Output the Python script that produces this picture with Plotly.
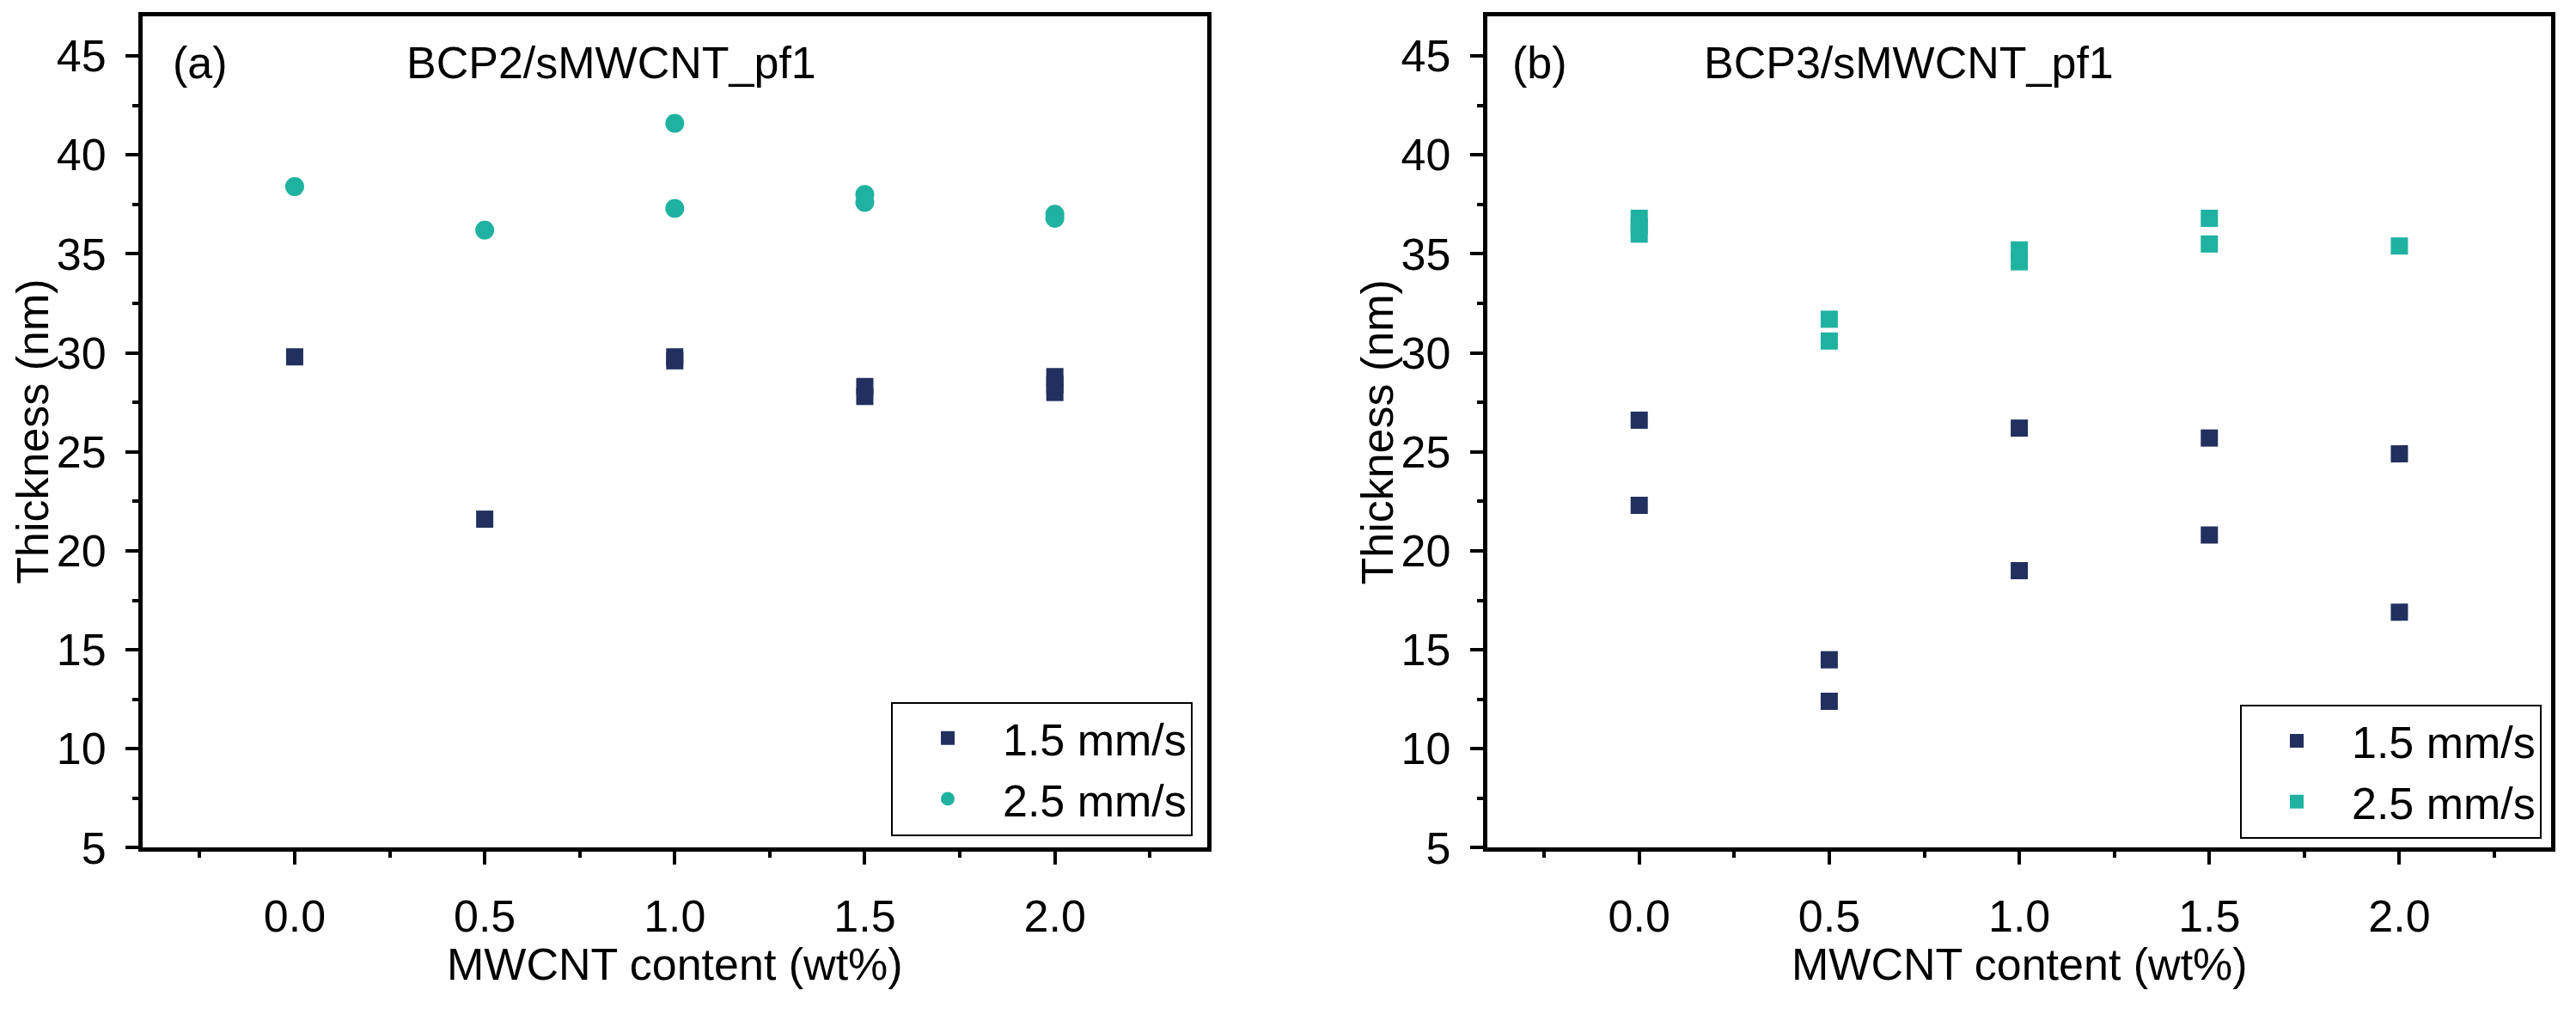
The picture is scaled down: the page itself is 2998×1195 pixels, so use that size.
import plotly.graph_objects as go

# figure fills the 2998x1195 browser window exactly
W, H = 2998, 1195

FONT = 'Liberation Sans, Arial, sans-serif'
NAVY = '#22305F'
TEAL = '#20B2A0'

# panel (a) BCP2/sMWCNT_pf1
content_a_slow = [0.0, 0.5, 1.0, 1.0, 1.5, 1.5, 2.0, 2.0, 2.0]
thick_a_slow = [29.8, 21.6, 29.8, 29.6, 28.3, 27.8, 28.8, 28.4, 28.0]
content_a_fast = [0.0, 0.5, 1.0, 1.0, 1.5, 1.5, 2.0, 2.0]
thick_a_fast = [38.4, 36.2, 41.6, 37.3, 38.0, 37.6, 37.0, 36.8]

# panel (b) BCP3/sMWCNT_pf1
content_b_slow = [0.0, 0.0, 0.5, 0.5, 1.0, 1.0, 1.5, 1.5, 2.0, 2.0]
thick_b_slow = [26.6, 22.3, 14.5, 12.4, 26.2, 19.0, 25.7, 20.8, 24.9, 16.9]
content_b_fast = [0.0, 0.0, 0.0, 0.5, 0.5, 1.0, 1.0, 1.5, 1.5, 2.0]
thick_b_fast = [36.8, 36.4, 36.0, 31.7, 30.6, 35.2, 34.6, 36.8, 35.5, 35.4]

x_ticks = [0.0, 0.5, 1.0, 1.5, 2.0]
x_tick_labels = ['0.0', '0.5', '1.0', '1.5', '2.0']
y_ticks = [5, 10, 15, 20, 25, 30, 35, 40, 45]
series_names = ['1.5 mm/s', '2.5 mm/s']
panel_tags = ['(a)', '(b)']
panel_titles = ['BCP2/sMWCNT_pf1', 'BCP3/sMWCNT_pf1']


def px_x(x):
    return x / W


def px_y(y):
    return 1 - y / H


fig = go.Figure()

fig.add_trace(go.Scatter(x=content_a_slow, y=thick_a_slow, mode='markers', name=series_names[0],
                         marker=dict(symbol='square', size=20, color=NAVY),
                         xaxis='x', yaxis='y', legend='legend'))
fig.add_trace(go.Scatter(x=content_a_fast, y=thick_a_fast, mode='markers', name=series_names[1],
                         marker=dict(symbol='circle', size=22, color=TEAL),
                         xaxis='x', yaxis='y', legend='legend'))
fig.add_trace(go.Scatter(x=content_b_slow, y=thick_b_slow, mode='markers', name=series_names[0],
                         marker=dict(symbol='square', size=20, color=NAVY),
                         xaxis='x2', yaxis='y2', legend='legend2'))
fig.add_trace(go.Scatter(x=content_b_fast, y=thick_b_fast, mode='markers', name=series_names[1],
                         marker=dict(symbol='square', size=20, color=TEAL),
                         xaxis='x2', yaxis='y2', legend='legend2'))

axis_style = dict(showgrid=False, zeroline=False, showline=True, mirror=True,
                  linecolor='black', linewidth=5,
                  ticks='outside', ticklen=15, tickwidth=4, tickcolor='black',
                  tickfont=dict(family=FONT, size=52, color='black'))

y_dom = [px_y(1011), px_y(19.5)]
panels = [(166, 1404.6), (1730.8, 2969.4)]

for i, (left, right) in enumerate(panels):
    sfx = '' if i == 0 else str(i + 1)
    fig.update_layout(**{
        f'xaxis{sfx}': dict(axis_style, domain=[px_x(left), px_x(right)], range=[-0.4, 2.4],
                            anchor=f'y{sfx}', tickvals=x_ticks, ticktext=x_tick_labels,
                            ticklabelstandoff=15,
                            minor=dict(dtick=0.25, tick0=0, ticks='outside', ticklen=7,
                                       tickwidth=4, tickcolor='black')),
        f'yaxis{sfx}': dict(axis_style, domain=y_dom, range=[5, 47],
                            anchor=f'x{sfx}', tickvals=y_ticks,
                            ticklabelstandoff=12,
                            minor=dict(dtick=2.5, tick0=5, ticks='outside', ticklen=7,
                                       tickwidth=4, tickcolor='black')),
    })
    xref = f'x{sfx} domain'
    # axis titles
    fig.add_annotation(text='MWCNT content (wt%)', xref=xref, yref='paper', x=0.5, y=px_y(1150),
                       xanchor='center', yanchor='middle', showarrow=False,
                       font=dict(family=FONT, size=52, color='black'))
    fig.add_annotation(text='Thickness (nm)', xref=xref, yref='paper', x=-128 / 1238.6,
                       y=(y_dom[0] + y_dom[1]) / 2, textangle=-90,
                       xanchor='center', yanchor='middle', showarrow=False,
                       font=dict(family=FONT, size=52, color='black'))
    # panel tag and sample name inside the frame
    tag_x = [(199 - 166) / 1238.6, (1758 - 1730.8) / 1238.6][i]
    title_x = [(471 - 166) / 1238.6, (1981 - 1730.8) / 1238.6][i]
    fig.add_annotation(text=panel_tags[i], xref=xref, yref='paper', x=tag_x, y=px_y(75),
                       xanchor='left', yanchor='middle', showarrow=False,
                       font=dict(family=FONT, size=52, color='black'))
    fig.add_annotation(text=panel_titles[i], xref=xref, yref='paper', x=title_x, y=px_y(75),
                       xanchor='left', yanchor='middle', showarrow=False,
                       font=dict(family=FONT, size=52, color='black'))

legend_style = dict(xanchor='right', yanchor='bottom', bgcolor='white',
                    bordercolor='black', borderwidth=2, itemwidth=118,
                    font=dict(family=FONT, size=52, color='black'))

fig.update_layout(
    width=W, height=H,
    margin=dict(l=0, r=0, t=0, b=0),
    paper_bgcolor='white', plot_bgcolor='white',
    legend=dict(legend_style, x=px_x(1388), y=px_y(996.7)),
    legend2=dict(legend_style, x=px_x(2958), y=px_y(1000)),
)

# drop the default body margin so the figure sits at the window origin
fig.write_html('out.html', config={'displayModeBar': False},
               post_script="document.body.style.margin = '0';")
